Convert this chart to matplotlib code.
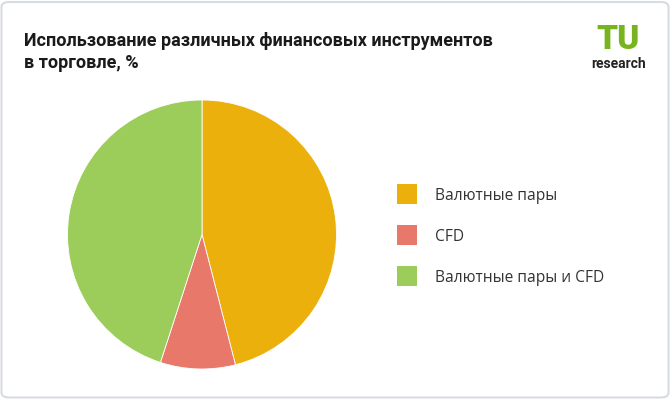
import matplotlib
matplotlib.use("Agg")
import matplotlib.pyplot as plt
from matplotlib.patches import FancyBboxPatch, Rectangle

# данные
labels = ["Валютные пары", "CFD", "Валютные пары и CFD"]
values = [46, 9, 45]
colors = ["#ebb00b", "#e8786a", "#9ccc5a"]

title = "Использование различных финансовых инструментов\nв торговле, %"

W, H = 670, 400
fig = plt.figure(figsize=(W / 100, H / 100), dpi=100)
fig.patch.set_facecolor("white")

# рамка карточки
card = FancyBboxPatch((1.5 / W, 2.5 / H), (W - 3) / W, (H - 4.5) / H,
                      boxstyle="round,pad=0,rounding_size=0.012",
                      transform=fig.transFigure, facecolor="white",
                      edgecolor="#d7dbe2", linewidth=1.5, zorder=-5)
fig.patches.append(card)

fig.text(24 / W, 1 - 52 / H, title, fontsize=13, fontweight="bold",
         family="Roboto", color="#1a1a1a", va="center", linespacing=1.3)

# логотип
fig.text(618.5 / W, 1 - 40 / H, "TU", fontsize=24, fontweight="black",
         family="Roboto", color="#78b41e", ha="center", va="center")
fig.text(618.5 / W, 1 - 64 / H, "research", fontsize=10, fontweight="bold",
         family="Roboto", color="#222222", ha="center", va="center")

# круговая диаграмма
cx, cy, r = 202, 234.5, 134.5
ax = fig.add_axes([(cx - r) / W, (H - cy - r) / H, 2 * r / W, 2 * r / H])
ax.pie(values, colors=colors, startangle=90, counterclock=False,
       wedgeprops=dict(linewidth=0.6, edgecolor="white"))
ax.set_xlim(-1, 1)
ax.set_ylim(-1, 1)
ax.set_aspect("auto")
ax.axis("off")

# легенда
for i, (lab, col) in enumerate(zip(labels, colors)):
    y = 194 + i * 41
    fig.patches.append(Rectangle((397 / W, 1 - (y + 10) / H), 20 / W, 20 / H,
                                 transform=fig.transFigure, facecolor=col,
                                 edgecolor="none"))
    fig.text(435 / W, 1 - (y + 1.5) / H, lab, fontsize=11.2, family="Open Sans",
             color="#333333", va="center")

fig.savefig("out.png", dpi=100)
